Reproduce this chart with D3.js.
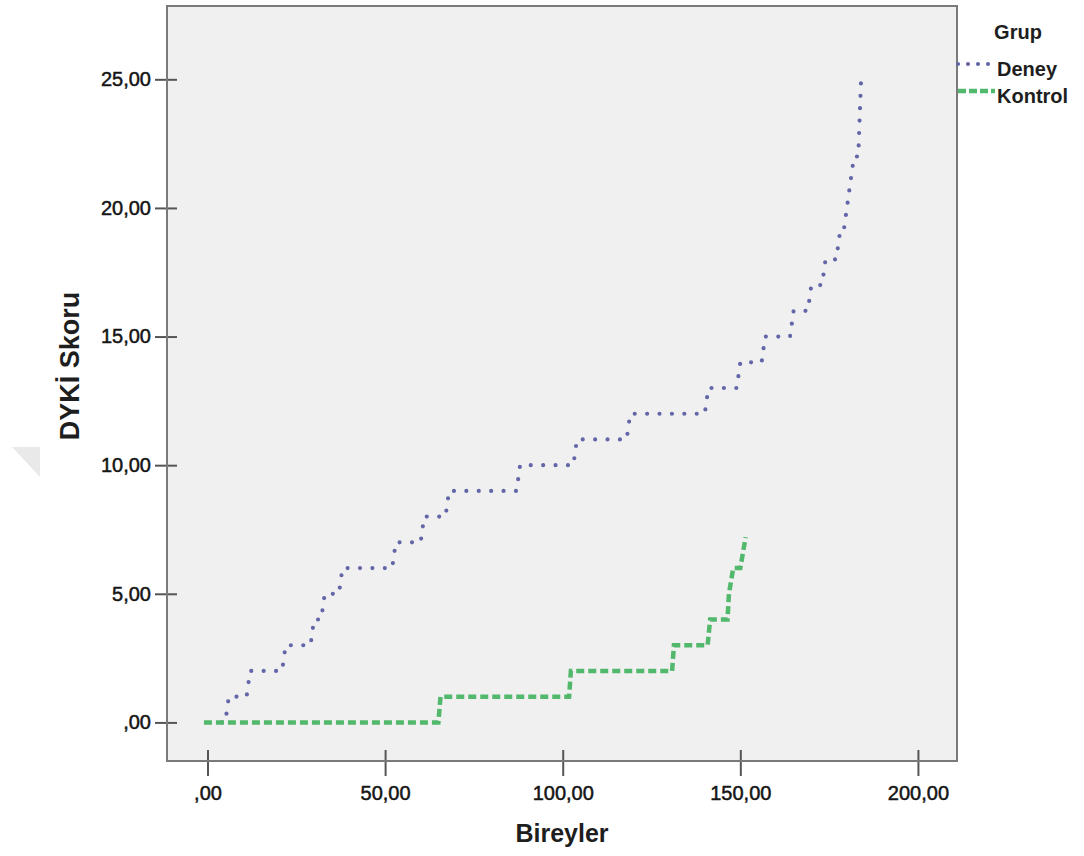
<!DOCTYPE html>
<html lang="tr">
<head>
<meta charset="utf-8">
<title>DYKİ Skoru</title>
<script src="https://cdn.jsdelivr.net/npm/d3@7"></script>
<style>
    body { margin: 0; background: #fff; }
    svg text { font-family: "Liberation Sans", Arial, sans-serif; }
</style>
</head>
<body>
<div id="chart"></div>
<script>
// axis range and ticks (SPSS style, comma decimal)
const xDomain = [-11.4, 211];
const yDomain = [-1.5, 27.85];
const xTickValues = [0, 50, 100, 150, 200];
const yTickValues = [0, 5, 10, 15, 20, 25];

const groups = ["Deney", "Kontrol"];

// [Bireyler, DYKİ Skoru] corner points
const deneyPoints = [
    [4, 0], [5, 0], [6, 1], [11, 1], [12, 2], [21, 2], [22, 3], [29, 3], [30, 4],
    [32, 4], [33, 5], [37, 5], [38, 6], [52, 6], [53, 7], [60, 7], [61, 8],
    [67, 8], [68, 9], [87, 9], [88, 10], [103, 10], [104, 11], [118, 11],
    [119, 12], [140, 12], [141, 13], [149, 13], [150, 14], [156, 14], [157, 15],
    [164, 15], [165, 16], [169, 16], [170, 17], [173, 17], [174, 18], [177, 18],
    [178, 19], [179, 19], [180, 20], [181, 21], [182, 22], [183.2, 22], [184, 25]
];

const kontrolPoints = [
    [-1, 0], [65, 0], [65.6, 1], [101.8, 1], [102.3, 2], [130.8, 2], [131.3, 3],
    [140.8, 3], [141.5, 4], [146.4, 4], [146.8, 5], [148, 6], [150, 6], [151.5, 7.2]
];

const width = 1084;
const height = 856;
const frame = { left: 167, right: 957, top: 6, bottom: 761 };

const styles = {
    Deney: { stroke: "#6367a8", width: 4.2, dash: "0 12.4", cap: "round" },
    Kontrol: { stroke: "#52b86c", width: 4.5, dash: "8 4", cap: "butt" }
};

function formatComma(value) {
    const s = d3.format(".2f")(value).replace(".", ",");
    return s.startsWith("0,") ? s.slice(1) : s;
}

const svg = d3.select("#chart").append("svg")
    .attr("width", width)
    .attr("height", height)
    .attr("viewBox", [0, 0, width, height]);

// faint watermark corner
svg.append("path")
    .attr("d", "M12,447 L40,447 L40,477 Z")
    .attr("fill", "#e9e9e9");

const x = d3.scaleLinear().domain(xDomain).range([frame.left, frame.right]);
const y = d3.scaleLinear().domain(yDomain).range([frame.bottom, frame.top]);

svg.append("rect")
    .attr("x", frame.left)
    .attr("y", frame.top)
    .attr("width", frame.right - frame.left)
    .attr("height", frame.bottom - frame.top)
    .attr("fill", "#f0f0f0");

const line = d3.line()
    .x((d) => x(d[0]))
    .y((d) => y(d[1]));

const series = [
    { name: "Deney", points: deneyPoints },
    { name: "Kontrol", points: kontrolPoints }
];

svg.append("g")
    .selectAll("path")
    .data(series)
    .join("path")
    .attr("d", (d) => line(d.points))
    .attr("fill", "none")
    .attr("stroke", (d) => styles[d.name].stroke)
    .attr("stroke-width", (d) => styles[d.name].width)
    .attr("stroke-dasharray", (d) => styles[d.name].dash)
    .attr("stroke-linecap", (d) => styles[d.name].cap);

// axes: ticks cross the frame
const yAxis = svg.append("g")
    .attr("transform", `translate(${frame.left}, 0)`)
    .call(d3.axisLeft(y).tickValues(yTickValues).tickFormat(formatComma)
        .tickSize(12).tickPadding(4));
yAxis.selectAll(".tick line").attr("x1", 10);

const xAxis = svg.append("g")
    .attr("transform", `translate(0, ${frame.bottom})`)
    .call(d3.axisBottom(x).tickValues(xTickValues).tickFormat(formatComma)
        .tickSize(15).tickPadding(10));
xAxis.selectAll(".tick line").attr("y1", -11);

svg.selectAll(".domain").remove();
svg.selectAll(".tick line").attr("stroke", "#555").attr("stroke-width", 2);
svg.selectAll(".tick text")
    .attr("fill", "#151515")
    .attr("stroke", "#151515")
    .attr("stroke-width", 0.5)
    .attr("font-size", 20);

// frame border
svg.append("rect")
    .attr("x", frame.left)
    .attr("y", frame.top)
    .attr("width", frame.right - frame.left)
    .attr("height", frame.bottom - frame.top)
    .attr("fill", "none")
    .attr("stroke", "#7a7a7a")
    .attr("stroke-width", 2);

svg.append("text")
    .attr("x", (frame.left + frame.right) / 2)
    .attr("y", 842)
    .attr("text-anchor", "middle")
    .attr("font-size", 25)
    .attr("font-weight", 700)
    .attr("fill", "#1e1e1e")
    .text("Bireyler");

svg.append("text")
    .attr("transform", `translate(79, 366) rotate(-90)`)
    .attr("text-anchor", "middle")
    .attr("font-size", 27)
    .attr("font-weight", 700)
    .attr("fill", "#1e1e1e")
    .text("DYKİ Skoru");

// legend
const legend = svg.append("g");

legend.append("text")
    .attr("x", 1018)
    .attr("y", 39)
    .attr("text-anchor", "middle")
    .attr("font-size", 20)
    .attr("font-weight", 700)
    .attr("fill", "#1e1e1e")
    .text("Grup");

const legendItems = legend.selectAll("g.item")
    .data(groups)
    .join("g")
    .attr("class", "item")
    .attr("transform", (_, i) => `translate(0, ${64 + i * 27})`);

legendItems.append("line")
    .attr("x1", frame.right + 1)
    .attr("x2", 995)
    .attr("stroke", (d) => styles[d].stroke)
    .attr("stroke-width", (d) => styles[d].width)
    .attr("stroke-dasharray", (d) => (d === "Deney" ? "0 10" : "8 3"))
    .attr("stroke-linecap", (d) => styles[d].cap);

legendItems.append("text")
    .attr("x", 997)
    .attr("y", 7)
    .attr("dominant-baseline", "middle")
    .attr("font-size", 20)
    .attr("font-weight", 700)
    .attr("fill", "#1e1e1e")
    .text((d) => d);
</script>
</body>
</html>
